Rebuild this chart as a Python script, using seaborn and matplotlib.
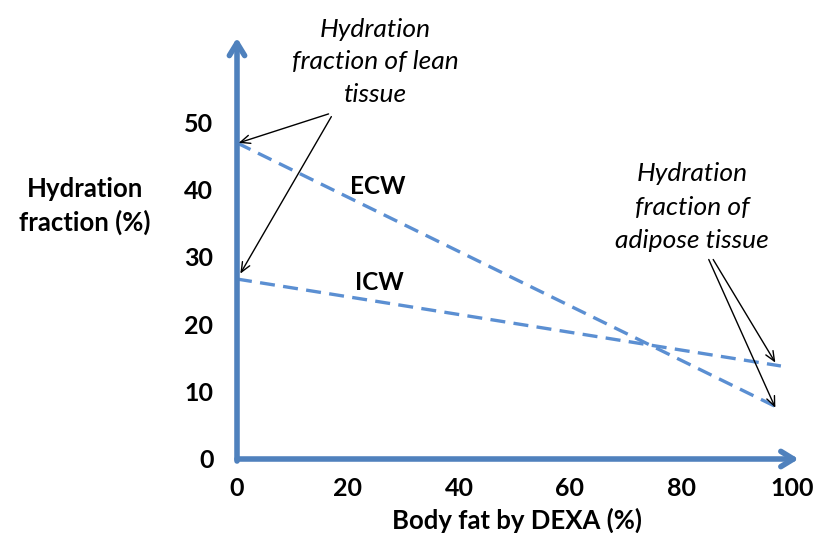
"""
Hydration fraction vs body fat (ECW / ICW) -- schematic line chart
"""

# ========= Imports =========
import pandas as pd
import seaborn as sns
import matplotlib.pyplot as plt

# ========= Data =========
body_fat = [0, 98]          # Body fat by DEXA (%)
ecw = [46.9, 7.4]           # extracellular water hydration fraction (%)
icw = [26.7, 13.8]          # intracellular water hydration fraction (%)
x_ticks = [0, 20, 40, 60, 80, 100]
y_ticks = [0, 10, 20, 30, 40, 50]

BLUE = "#4F81BD"
LINE_BLUE = "#5B8FD2"

# ========= Plot =========
sns.set_style("white")
plt.rcParams["font.family"] = ["Lato", "DejaVu Sans"]
plt.rcParams["text.color"] = "black"
plt.rcParams["xtick.color"] = "black"
plt.rcParams["ytick.color"] = "black"

df = pd.DataFrame({
    "fat": body_fat * 2,
    "value": ecw + icw,
    "series": ["ECW"] * 2 + ["ICW"] * 2,
})

fig = plt.figure(figsize=(8.16, 5.33), dpi=100)
# data origin at px (237, 459); 5.55 px per x unit, 6.74 px per y unit
ax = fig.add_axes([237 / 816, (533 - 459) / 533, (800 - 237) / 816, (459 - 38) / 533])
ax.set_xlim(0, (800 - 237) / 5.55)
ax.set_ylim(0, (459 - 38) / 6.74)

sns.lineplot(data=df, x="fat", y="value", hue="series",
             palette=[LINE_BLUE, LINE_BLUE], linewidth=2.4,
             legend=False, ax=ax)
for ln in ax.lines:
    ln.set_dashes([4.5, 2.5])
    ln.set_clip_on(False)

for s in ax.spines.values():
    s.set_visible(False)
ax.set_xlabel("")
ax.set_ylabel("")

# axis arrows
ax.annotate("", xy=(101.2, 0), xytext=(0, 0), xycoords="data",
            arrowprops=dict(arrowstyle="->,head_length=0.9,head_width=0.55",
                            color=BLUE, lw=4, shrinkA=0, shrinkB=0),
            annotation_clip=False)
ax.annotate("", xy=(0, 62.5), xytext=(0, -0.3), xycoords="data",
            arrowprops=dict(arrowstyle="->,head_length=0.9,head_width=0.55",
                            color=BLUE, lw=4, shrinkA=0, shrinkB=0),
            annotation_clip=False)

ax.set_xticks(x_ticks)
ax.set_yticks(y_ticks)
ax.set_xticklabels([str(t) for t in x_ticks], fontsize=18, fontweight="bold")
ax.set_yticklabels([str(t) for t in y_ticks], fontsize=18, fontweight="bold")
ax.tick_params(axis="x", length=0, pad=13, labelcolor="black")
ax.tick_params(axis="y", length=0, pad=17, labelcolor="black")

fig.text(85 / 816, 1 - 206 / 533, "Hydration\nfraction (%)", ha="center",
         va="center", fontsize=18.5, fontweight="bold", linespacing=1.45)
fig.text(517 / 816, 1 - 520 / 533, "Body fat by DEXA (%)", ha="center",
         va="center", fontsize=18.5, fontweight="bold")

# series labels
ax.text(25.3, 40.5, "ECW", fontsize=17.5, fontweight="bold", ha="center", va="center")
ax.text(25.7, 26.2, "ICW", fontsize=17.5, fontweight="bold", ha="center", va="center")

# callouts
arrow_kw = dict(arrowstyle="->,head_length=0.7,head_width=0.3", color="black",
                lw=1, shrinkA=0, shrinkB=0)
fig.text(375 / 816, 1 - 62 / 533, "Hydration\nfraction of lean\ntissue",
         ha="center", va="center", fontsize=19, style="italic", linespacing=1.5)
ax.annotate("", xy=(0.3, ecw[0]), xytext=(16.5, 51.2), arrowprops=arrow_kw,
            annotation_clip=False)
ax.annotate("", xy=(0.6, 27.5), xytext=(17.0, 50.8), arrowprops=arrow_kw,
            annotation_clip=False)

fig.text(692 / 816, 1 - 207 / 533, "Hydration\nfraction of\nadipose tissue",
         ha="center", va="center", fontsize=19, style="italic", linespacing=1.55)
ax.annotate("", xy=(97.0, 14.3), xytext=(85.8, 29.6), arrowprops=arrow_kw,
            annotation_clip=False)
ax.annotate("", xy=(97.0, 7.6), xytext=(85.0, 29.6), arrowprops=arrow_kw,
            annotation_clip=False)

fig.savefig("out.png", dpi=100)
plt.close(fig)
